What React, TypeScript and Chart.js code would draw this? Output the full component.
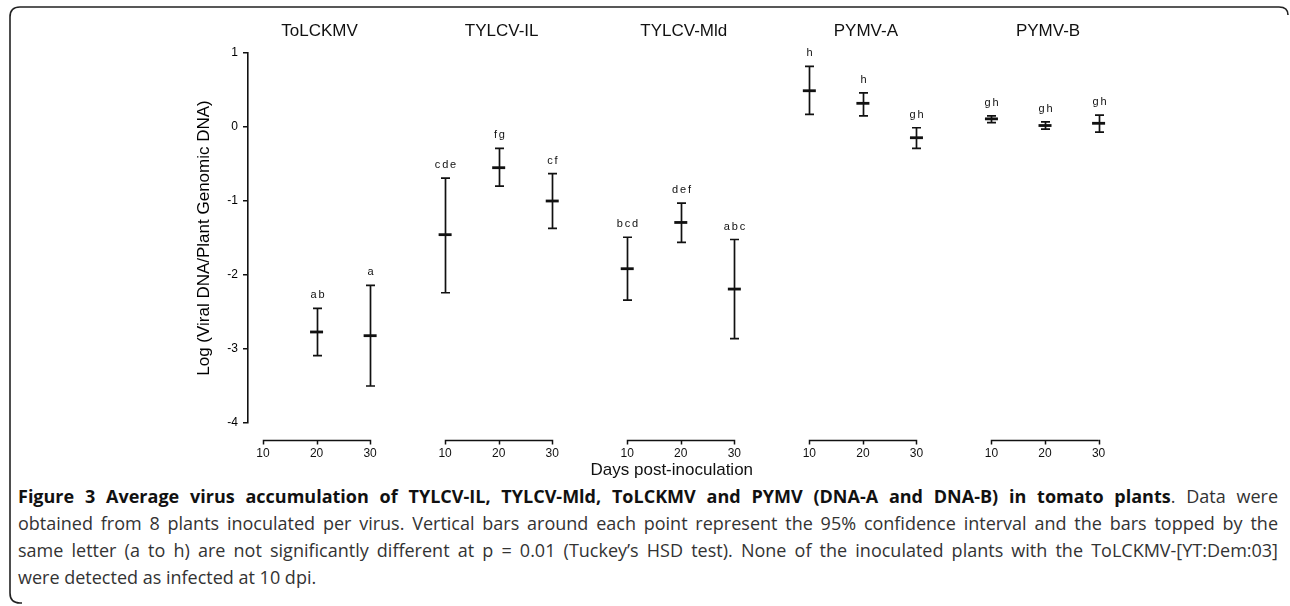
import React, { useEffect, useRef } from 'react';
import { Chart, registerables } from 'chart.js';

Chart.register(...registerables);

// ---------------- data ----------------
const groupNames = ['ToLCKMV', 'TYLCV-IL', 'TYLCV-Mld', 'PYMV-A', 'PYMV-B'];
const dayTicks = [10, 20, 30];
const meanValues: (number | null)[][] = [
  [null, -2.77, -2.82],
  [-1.455, -0.55, -1.0],
  [-1.915, -1.29, -2.19],
  [0.49, 0.32, -0.145],
  [0.11, 0.02, 0.05],
];
const lowerValues: (number | null)[][] = [
  [null, -3.09, -3.5],
  [-2.24, -0.8, -1.37],
  [-2.34, -1.56, -2.86],
  [0.17, 0.15, -0.29],
  [0.06, -0.03, -0.07],
];
const upperValues: (number | null)[][] = [
  [null, -2.45, -2.14],
  [-0.69, -0.29, -0.63],
  [-1.49, -1.03, -1.52],
  [0.82, 0.46, -0.01],
  [0.15, 0.07, 0.16],
];
const letterLabels: string[][] = [
  ['', 'ab', 'a'],
  ['cde', 'fg', 'cf'],
  ['bcd', 'def', 'abc'],
  ['h', 'h', 'gh'],
  ['gh', 'gh', 'gh'],
];
const yMin = -4;
const yMax = 1;

// layout of the grouped day axis (x units between groups)
const GROUP_SPAN = 34;
const xOf = (g: number, d: number) => g * GROUP_SPAN + d;

const FONT = "'Liberation Sans', Arial, sans-serif";
const INK = '#111';

const points: { x: number; y: number }[] = [];
groupNames.forEach((_, g) =>
  dayTicks.forEach((d, i) => {
    const m = meanValues[g][i];
    if (m != null) points.push({ x: xOf(g, d), y: m });
  })
);

const decorPlugin = {
  id: 'decor',
  afterDatasetsDraw(chart: any) {
    const { ctx, chartArea } = chart;
    const xs = chart.scales.x;
    const ys = chart.scales.y;
    ctx.save();
    ctx.strokeStyle = INK;
    ctx.fillStyle = INK;

    // error bars + letters
    groupNames.forEach((_, g) =>
      dayTicks.forEach((d, i) => {
        const m = meanValues[g][i];
        if (m == null) return;
        const px = Math.round(xs.getPixelForValue(xOf(g, d))) + 0.5;
        const top = ys.getPixelForValue(upperValues[g][i] as number);
        const bot = ys.getPixelForValue(lowerValues[g][i] as number);
        ctx.lineWidth = 1.7;
        ctx.beginPath();
        ctx.moveTo(px, top);
        ctx.lineTo(px, bot);
        ctx.moveTo(px - 4.5, top);
        ctx.lineTo(px + 4.5, top);
        ctx.moveTo(px - 4.5, bot);
        ctx.lineTo(px + 4.5, bot);
        ctx.stroke();
        const lab = letterLabels[g][i];
        if (lab) {
          ctx.font = `11px ${FONT}`;
          ctx.textAlign = 'left';
          ctx.textBaseline = 'middle';
          (ctx as any).letterSpacing = '1.8px';
          const w = ctx.measureText(lab).width - 1.8;
          ctx.fillText(lab, px - w / 2, top - 13);
          (ctx as any).letterSpacing = '0px';
        }
      })
    );

    // group titles
    ctx.font = `17px ${FONT}`;
    ctx.textAlign = 'center';
    ctx.textBaseline = 'middle';
    groupNames.forEach((name, g) => {
      ctx.fillText(name, xs.getPixelForValue(xOf(g, 20)) + 3, 31);
    });

    // grouped day axes
    const axisY = chartArea.bottom + 17.5;
    ctx.lineWidth = 1.5;
    groupNames.forEach((_, g) => {
      const a = xs.getPixelForValue(xOf(g, dayTicks[0]));
      const b = xs.getPixelForValue(xOf(g, dayTicks[dayTicks.length - 1]));
      ctx.beginPath();
      ctx.moveTo(a, axisY);
      ctx.lineTo(b, axisY);
      dayTicks.forEach((d) => {
        const p = Math.round(xs.getPixelForValue(xOf(g, d))) + 0.5;
        ctx.moveTo(p, axisY - 0.75);
        ctx.lineTo(p, axisY + 4);
      });
      ctx.stroke();
      ctx.font = `12px ${FONT}`;
      ctx.textAlign = 'center';
      ctx.textBaseline = 'middle';
      dayTicks.forEach((d) => {
        ctx.fillText(String(d), xs.getPixelForValue(xOf(g, d)), axisY + 13);
      });
    });

    // x title
    ctx.font = `17px ${FONT}`;
    ctx.textAlign = 'center';
    ctx.textBaseline = 'middle';
    ctx.fillText('Days post-inoculation', xs.getPixelForValue(xOf(2, 20)) - 9, axisY + 30);
    ctx.restore();
  },
};

const captionLines: { bold?: string; text: string; last?: boolean }[] = [
  {
    bold: 'Figure 3 Average virus accumulation of TYLCV-IL, TYLCV-Mld, ToLCKMV and PYMV (DNA-A and DNA-B) in tomato plants',
    text: '. Data were',
  },
  {
    text: 'obtained from 8 plants inoculated per virus. Vertical bars around each point represent the 95% confidence interval and the bars topped by the',
  },
  {
    text: 'same letter (a to h) are not significantly different at p = 0.01 (Tuckey\u2019s HSD test). None of the inoculated plants with the ToLCKMV-[YT:Dem:03]',
  },
  { text: 'were detected as infected at 10 dpi.', last: true },
];

export default function App() {
  const canvasRef = useRef<HTMLCanvasElement | null>(null);

  useEffect(() => {
    if (!canvasRef.current) return;
    const chart = new Chart(canvasRef.current, {
      type: 'scatter',
      data: {
        datasets: [
          {
            data: points,
            pointStyle: 'line',
            pointRadius: 6.5,
            pointHoverRadius: 6.5,
            borderWidth: 2.8,
            borderColor: INK,
            backgroundColor: INK,
            showLine: false,
          },
        ],
      },
      options: {
        animation: false,
        responsive: false,
        events: [],
        layout: { padding: { left: 194, top: 53, right: 170, bottom: 57 } },
        plugins: { legend: { display: false }, tooltip: { enabled: false } },
        scales: {
          x: { type: 'linear', display: false, min: 7.2, max: 170 },
          y: {
            min: yMin,
            max: yMax,
            afterFit: (s: any) => {
              s.width = 54;
            },
            ticks: { stepSize: 1, color: '#000', font: { family: FONT, size: 12 }, padding: 5 },
            grid: { drawOnChartArea: false, color: INK, lineWidth: 1.5, tickLength: 5 },
            border: { color: INK, width: 1.6 },
            title: {
              display: true,
              text: 'Log (Viral DNA/Plant Genomic DNA)',
              color: '#000',
              font: { family: FONT, size: 17 },
              padding: 0,
            },
          },
        },
      },
      plugins: [decorPlugin],
    } as any);
    return () => chart.destroy();
  }, []);

  return (
    <div style={{ position: 'absolute', left: 0, top: 0, width: 1290, height: 606, background: '#fff', overflow: 'hidden' }}>
      <svg width={1290} height={606} style={{ position: 'absolute', left: 0, top: 0 }}>
        <path
          d="M 1288 15 Q 1288 7 1279 7 L 20 7 Q 10 7 10 17 L 10 593 Q 10 603 20 603 L 22 603"
          fill="none"
          stroke="#222"
          strokeWidth={1.6}
        />
      </svg>
      <canvas ref={canvasRef} width={1290} height={480} style={{ position: 'absolute', left: 0, top: 0 }} />
      <div
        style={{
          position: 'absolute',
          left: 18,
          top: 483,
          width: 1260,
          fontFamily: "'Open Sans', Lato, sans-serif",
          fontSize: 18,
          lineHeight: '27px',
          color: '#333',
        }}
      >
        {captionLines.map((l, i) => (
          <div
            key={i}
            style={{
              whiteSpace: 'nowrap',
              textAlign: l.last ? 'left' : 'justify',
              textAlignLast: l.last ? 'left' : 'justify',
            } as any}
          >
            {l.bold ? <b style={{ color: '#111' }}>{l.bold}</b> : null}
            {l.text}
          </div>
        ))}
      </div>
    </div>
  );
}
